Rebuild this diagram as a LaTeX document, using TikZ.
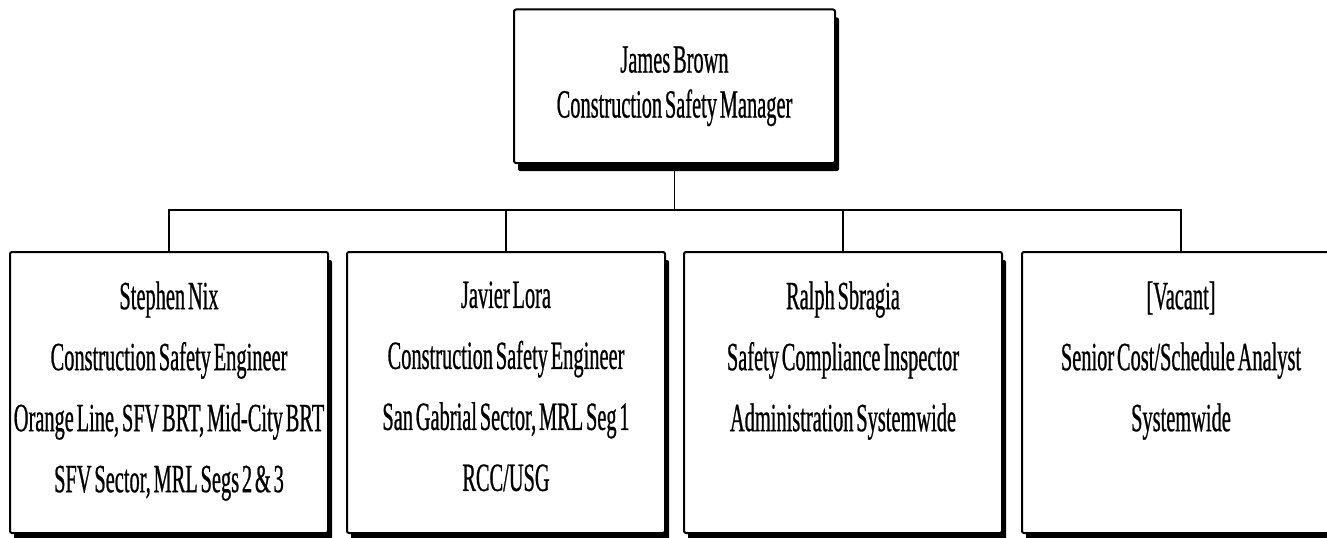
\documentclass[tikz,border=0pt]{standalone}
\usepackage{fontspec}
\setmainfont{Liberation Serif}[FakeStretch=0.51, WordSpace=0.55, FakeBold=0.6]
\usetikzlibrary{positioning, shadows}

\begin{document}
\begin{tikzpicture}[
      x=0.5pt, y=0.5pt,
      every node/.style={font=\fontsize{20}{22.5}\selectfont},
      box/.style={draw, line width=1pt, fill=white, rounded corners=1pt,
        drop shadow={shadow xshift=2pt, shadow yshift=-4pt, opacity=1, fill=black}},
      head/.style={box, minimum width=160.5pt, minimum height=76.75pt, align=center},
      staff/.style={box, minimum width=159pt, minimum height=140.5pt},
      info/.style={align=center, anchor=north, inner sep=0pt,
        font=\fontsize{20}{30.5}\selectfont},
      link/.style={line width=0.75pt}
    ]
      \useasboundingbox (0,0) rectangle (1327,537);

      \node[head] (brown) at (674.5,450.75) {James Brown\\Construction Safety Manager};

      \node[staff] (nix) at (169,144.5) {};
      \node[staff] (lora) at (506,144.5) {};
      \node[staff] (sbragia) at (843,144.5) {};
      \node[staff] (vacant) at (1181,144.5) {};

      \node[info] (nixtext) at ([yshift=-15pt]nix.north)
        {Stephen Nix\\Construction Safety Engineer\\Orange Line, SFV BRT, Mid-City BRT\\SFV Sector, MRL Segs 2 \& 3};
      \node[info] (loratext) at ([yshift=-15pt]lora.north)
        {Javier Lora\\Construction Safety Engineer\\San Gabrial Sector, MRL Seg 1\\RCC/USG};
      \node[info] (sbragiatext) at ([yshift=-15pt]sbragia.north)
        {Ralph Sbragia\\Safety Compliance Inspector\\Administration Systemwide};
      \node[info] (vacanttext) at ([yshift=-15pt]vacant.north)
        {[Vacant]\\Senior Cost/Schedule Analyst\\Systemwide};

      \coordinate (split) at (0,327);
      \draw[link] (brown.south) -- (brown.south |- split);
      \draw[link] (nix.north) -- (nix.north |- split) -- (vacant.north |- split) -- (vacant.north);
      \draw[link] (lora.north) -- (lora.north |- split);
      \draw[link] (sbragia.north) -- (sbragia.north |- split);
    \end{tikzpicture}
\end{document}
